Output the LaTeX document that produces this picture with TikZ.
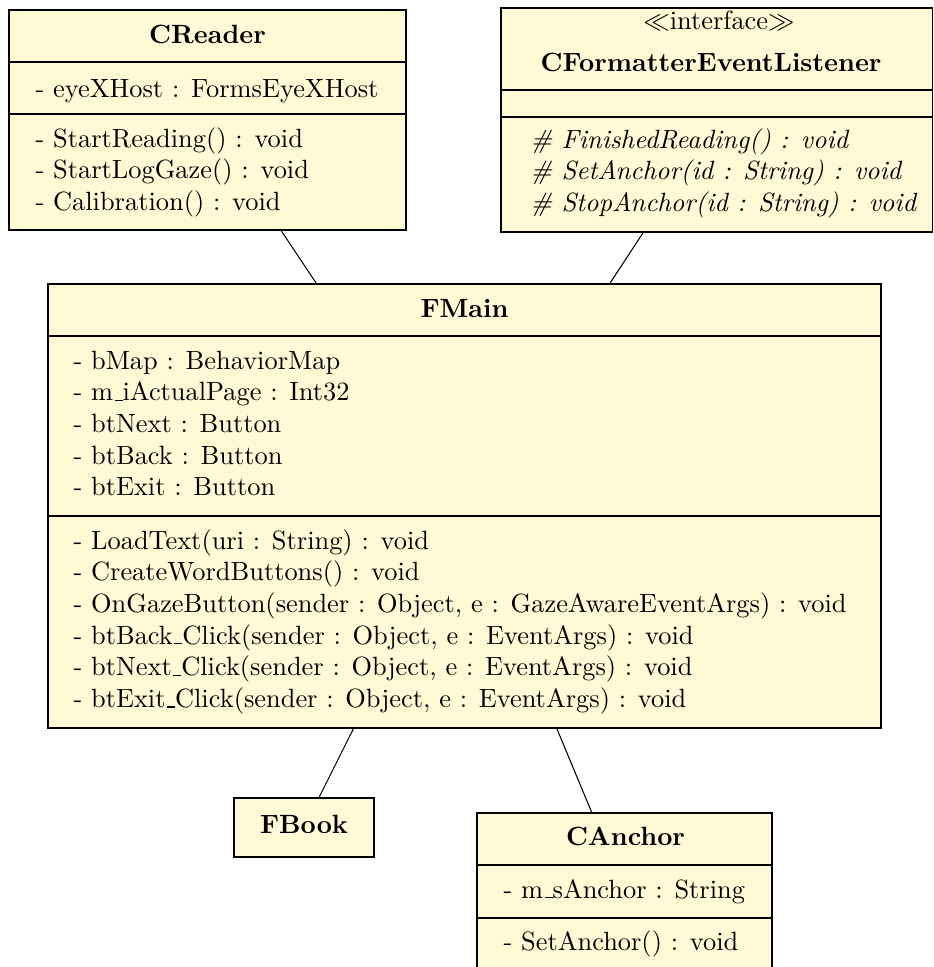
\documentclass[tikz,border=0pt]{standalone}
\definecolor{umlfill}{RGB}{255,249,214}
\def\pxl{0.37879pt}
\newcommand\usc{\leavevmode\kern.06em\vbox{\hrule width.3em}}
\tikzset{
  umlbox/.style={draw=black, fill=umlfill, line width=0.4pt, inner sep=0pt},
  txt/.style={anchor=base west, inner sep=0pt},
  ttl/.style={anchor=base, inner sep=0pt, font=\bfseries},
  stereo/.style={anchor=base, inner sep=0pt},
  divider/.style={draw=black, line width=0.4pt},
  conn/.style={draw=black, line width=0.4pt}
}
\begin{document}
\begin{tikzpicture}[x=0.37879pt, y=-0.37879pt]
\useasboundingbox (0,0) rectangle (933,967);

% boxes
\node[umlbox, minimum width=397*\pxl, minimum height=220*\pxl] (creader) at (207.5,120) {};
\node[umlbox, minimum width=431.5*\pxl, minimum height=224*\pxl] (cfel) at (716.75,120) {};
\node[umlbox, minimum width=833*\pxl, minimum height=444*\pxl] (fmain) at (464.5,506) {};
\node[umlbox, minimum width=140*\pxl, minimum height=59*\pxl] (fbook) at (304,827.5) {};
\node[umlbox, minimum width=295*\pxl, minimum height=157*\pxl] (canchor) at (624.5,891.5) {};

% dividers
\draw[divider] (creader.west |- 0,62) -- (creader.east |- 0,62);
\draw[divider] (creader.west |- 0,114) -- (creader.east |- 0,114);
\draw[divider] (cfel.west |- 0,90) -- (cfel.east |- 0,90);
\draw[divider] (cfel.west |- 0,117) -- (cfel.east |- 0,117);
\draw[divider] (fmain.west |- 0,336) -- (fmain.east |- 0,336);
\draw[divider] (fmain.west |- 0,516) -- (fmain.east |- 0,516);
\draw[divider] (canchor.west |- 0,865) -- (canchor.east |- 0,865);
\draw[divider] (canchor.west |- 0,918) -- (canchor.east |- 0,918);

% CReader
\node[ttl] (creaderT) at (207.5,43) {CReader};
\node[txt] (creaderA1) at (35,97) {- eyeXHost : FormsEyeXHost};
\node[txt] (creaderM1) at (35,147) {- StartReading() : void};
\node[txt] (creaderM2) at (35,178.7) {- StartLogGaze() : void};
\node[txt] (creaderM3) at (35,210.4) {- Calibration() : void};

% CFormatterEventListener
\node[stereo] (cfelS) at (719,29) {$\ll$interface$\gg$};
\node[ttl] (cfelT) at (711,71) {CFormatterEventListener};
\node[txt] (cfelM1) at (530,148) {\textit{\# FinishedReading() : void}};
\node[txt] (cfelM2) at (530,179.7) {\textit{\# SetAnchor(id : String) : void}};
\node[txt] (cfelM3) at (530,211.4) {\textit{\# StopAnchor(id : String) : void}};

% FMain
\node[ttl] (fmainT) at (464.5,317) {FMain};
\node[txt] (fmainA1) at (73,369) {- bMap : BehaviorMap};
\node[txt] (fmainA2) at (73,400.7) {- m\usc iActualPage : Int32};
\node[txt] (fmainA3) at (73,432.4) {- btNext : Button};
\node[txt] (fmainA4) at (73,464.1) {- btBack : Button};
\node[txt] (fmainA5) at (73,495.8) {- btExit : Button};
\node[txt] (fmainM1) at (73,549) {- LoadText(uri : String) : void};
\node[txt] (fmainM2) at (73,580.7) {- CreateWordButtons() : void};
\node[txt] (fmainM3) at (73,612.4) {- OnGazeButton(sender : Object, e : GazeAwareEventArgs) : void};
\node[txt] (fmainM4) at (73,644.1) {- btBack\usc Click(sender : Object, e : EventArgs) : void};
\node[txt] (fmainM5) at (73,675.8) {- btNext\usc Click(sender : Object, e : EventArgs) : void};
\node[txt] (fmainM6) at (73,707.5) {- btExit\usc Click(sender : Object, e : EventArgs) : void};

% FBook
\node[ttl] (fbookT) at (304,833) {FBook};

% CAnchor
\node[ttl] (canchorT) at (625.5,845) {CAnchor};
\node[txt] (canchorA1) at (503,898) {- m\usc sAnchor : String};
\node[txt] (canchorM1) at (503,950) {- SetAnchor() : void};

% connectors
\draw[conn] (creader) -- (fmain);
\draw[conn] (cfel) -- (fmain);
\draw[conn] (fmain) -- (fbook);
\draw[conn] (fmain) -- (canchor);
\end{tikzpicture}
\end{document}
